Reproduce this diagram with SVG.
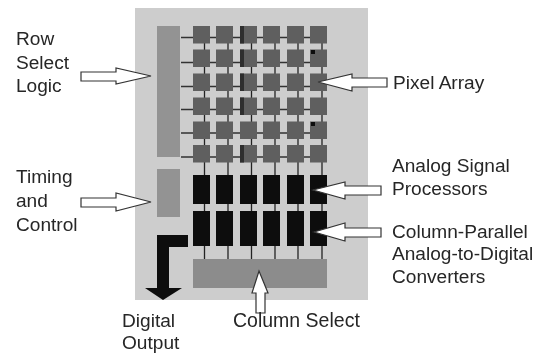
<svg xmlns="http://www.w3.org/2000/svg" width="540" height="353" viewBox="0 0 540 353">
<defs>
<style>
text{font-family:"Liberation Sans",Arial,sans-serif;font-size:19.1px;fill:#262626}
.p{fill:#5f5f5f}
.s{fill:#2f2f2f}
.d{fill:#0f0f0f}
.g{fill:#939393}
.a{fill:#fff;stroke:#333;stroke-width:1.2}
.c{stroke:#333;stroke-width:1.3;fill:none}
.v{stroke:#222;stroke-width:1.3;fill:none}
</style>
<filter id="soft" x="0" y="0" width="100%" height="100%"><feGaussianBlur stdDeviation="0.4"/></filter>
<rect id="px" width="17" height="17.500"/>
<rect id="ap" width="17" height="29"/>
<rect id="ad" width="17" height="35"/>
</defs>
<rect width="540" height="353" fill="#fff"/>
<g filter="url(#soft)">
<rect id="panel" x="135" y="8" width="233" height="292" fill="#cdcdcd"/>
<g id="connectors">
<path class="c" d="M181 37.500H327M181 62.500H327M181 86.500H327M181 109.500H327M181 133H327M181 157H327"/>
<path class="v" d="M204.500 43V259M228 43V259M251.500 43V259M275 43V259M298 43V259M322 43V259"/>
</g>
<g id="row-select-logic"><rect class="g" x="157" y="26" width="23" height="131"/></g>
<g id="timing-control"><rect class="g" x="157" y="169" width="23" height="48"/></g>
<g id="pixel-array">
<use href="#px" class="p" x="193" y="26"/><use href="#px" class="p" x="216" y="26"/><use href="#px" class="p" x="240" y="26"/><use href="#px" class="p" x="263" y="26"/><use href="#px" class="p" x="287" y="26"/><use href="#px" class="p" x="310" y="26"/>
<use href="#px" class="p" x="193" y="49.500"/><use href="#px" class="p" x="216" y="49.500"/><use href="#px" class="p" x="240" y="49.500"/><use href="#px" class="p" x="263" y="49.500"/><use href="#px" class="p" x="287" y="49.500"/><use href="#px" class="p" x="310" y="49.500"/>
<use href="#px" class="p" x="193" y="73.500"/><use href="#px" class="p" x="216" y="73.500"/><use href="#px" class="p" x="240" y="73.500"/><use href="#px" class="p" x="263" y="73.500"/><use href="#px" class="p" x="287" y="73.500"/><use href="#px" class="p" x="310" y="73.500"/>
<use href="#px" class="p" x="193" y="97.500"/><use href="#px" class="p" x="216" y="97.500"/><use href="#px" class="p" x="240" y="97.500"/><use href="#px" class="p" x="263" y="97.500"/><use href="#px" class="p" x="287" y="97.500"/><use href="#px" class="p" x="310" y="97.500"/>
<use href="#px" class="p" x="193" y="121.500"/><use href="#px" class="p" x="216" y="121.500"/><use href="#px" class="p" x="240" y="121.500"/><use href="#px" class="p" x="263" y="121.500"/><use href="#px" class="p" x="287" y="121.500"/><use href="#px" class="p" x="310" y="121.500"/>
<use href="#px" class="p" x="193" y="145"/><use href="#px" class="p" x="216" y="145"/><use href="#px" class="p" x="240" y="145"/><use href="#px" class="p" x="263" y="145"/><use href="#px" class="p" x="287" y="145"/><use href="#px" class="p" x="310" y="145"/>
<rect class="s" x="240" y="26" width="4" height="17.500"/><rect class="s" x="240" y="49.500" width="4" height="17.500"/><rect class="s" x="240" y="73.500" width="4" height="17.500"/><rect class="s" x="240" y="97.500" width="4" height="17.500"/><rect class="s" x="240" y="145" width="4" height="17.500"/>
<rect class="d" x="311" y="50" width="4" height="4"/><rect class="d" x="311" y="122" width="4" height="4"/>
</g>
<g id="analog-signal-processors">
<use href="#ap" class="d" x="193" y="175"/><use href="#ap" class="d" x="216" y="175"/><use href="#ap" class="d" x="240" y="175"/><use href="#ap" class="d" x="263" y="175"/><use href="#ap" class="d" x="287" y="175"/><use href="#ap" class="d" x="310" y="175"/>
</g>
<g id="adc">
<use href="#ad" class="d" x="193" y="211"/><use href="#ad" class="d" x="216" y="211"/><use href="#ad" class="d" x="240" y="211"/><use href="#ad" class="d" x="263" y="211"/><use href="#ad" class="d" x="287" y="211"/><use href="#ad" class="d" x="310" y="211"/>
</g>
<g id="column-select"><rect x="193" y="259" width="134" height="29" fill="#8c8c8c"/></g>
<g id="digital-output-arrow"><polygon class="d" points="188,235 157,235 157,288 145,288 163,300 182,288 169,288 169,247 188,247"/></g>
<g id="callouts">
<polygon class="a" points="81,72 116,72 116,68 151,76 116,84 116,81 81,81"/>
<polygon class="a" points="81,198 116,198 116,193 151,202 116,211 116,207 81,207"/>
<polygon class="a" points="387,78 352,78 352,74 318,82 352,91 352,87 387,87"/>
<polygon class="a" points="381,186 345,186 345,182 313,190 345,199 345,195 381,195"/>
<polygon class="a" points="381,228 345,228 345,223 314,232 345,241 345,237 381,237"/>
<polygon class="a" points="256,313 256,293 252,293 259,271 268,293 265,293 265,313"/>
</g>
<g id="labels">
<text x="16" y="45">Row</text><text x="16" y="69">Select</text><text x="16" y="92">Logic</text>
<text x="16" y="183">Timing</text><text x="16" y="207">and</text><text x="16" y="231">Control</text>
<text x="393" y="89">Pixel Array</text>
<text x="392" y="172">Analog Signal</text><text x="392" y="195">Processors</text>
<text x="392" y="238">Column-Parallel</text><text x="392" y="260">Analog-to-Digital</text><text x="392" y="283">Converters</text>
<text x="122" y="327">Digital</text><text x="122" y="349">Output</text>
<text x="233" y="327" style="font-size:19.5px">Column Select</text>
</g>
</g>
</svg>
